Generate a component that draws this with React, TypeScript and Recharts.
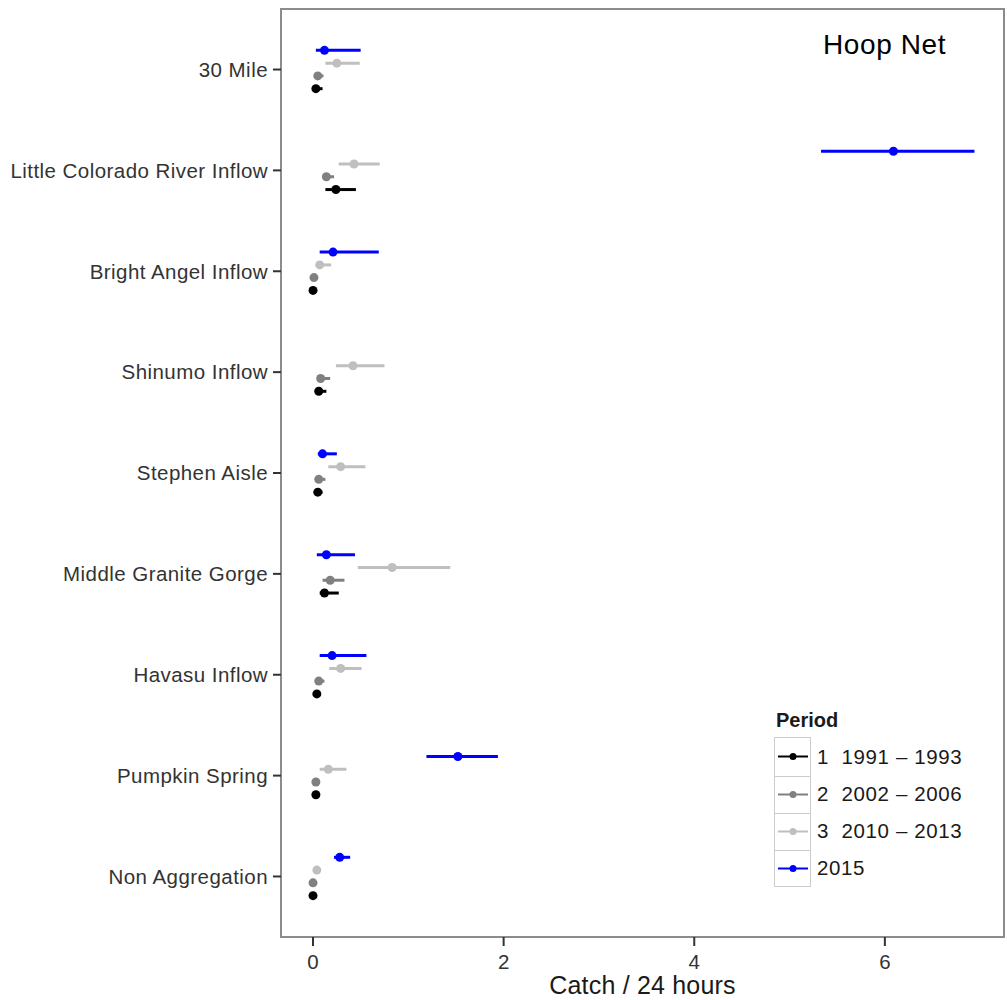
import { ScatterChart, Scatter, XAxis, YAxis, ErrorBar, ReferenceArea } from 'recharts';

// sites from bottom (0) to top (8)
const sites: string[] = [
  'Non Aggregation',
  'Pumpkin Spring',
  'Havasu Inflow',
  'Middle Granite Gorge',
  'Stephen Aisle',
  'Shinumo Inflow',
  'Bright Angel Inflow',
  'Little Colorado River Inflow',
  '30 Mile',
];

// period 1: 1991 - 1993
const p1Mean = [0.0, 0.03, 0.04, 0.12, 0.05, 0.06, 0.0, 0.24, 0.03];
const p1Low = [0.0, 0.02, 0.02, 0.07, 0.02, 0.03, 0.0, 0.13, 0.0];
const p1High = [0.0, 0.04, 0.07, 0.27, 0.1, 0.14, 0.03, 0.45, 0.1];

// period 2: 2002 - 2006
const p2Mean = [0.0, 0.03, 0.06, 0.18, 0.06, 0.08, 0.01, 0.14, 0.05];
const p2Low = [0.0, 0.02, 0.03, 0.1, 0.03, 0.05, 0.0, 0.1, 0.02];
const p2High = [0.0, 0.04, 0.12, 0.33, 0.13, 0.18, 0.04, 0.22, 0.11];

// period 3: 2010 - 2013
const p3Mean = [0.04, 0.16, 0.29, 0.83, 0.29, 0.42, 0.07, 0.43, 0.25];
const p3Low = [0.03, 0.07, 0.17, 0.47, 0.16, 0.24, 0.04, 0.27, 0.13];
const p3High = [0.05, 0.35, 0.51, 1.44, 0.55, 0.75, 0.19, 0.7, 0.49];

// 2015 (no Shinumo sample)
const p4Mean = [0.28, 1.52, 0.2, 0.14, 0.1, null, 0.21, 6.09, 0.12];
const p4Low = [0.22, 1.19, 0.07, 0.04, 0.05, null, 0.07, 5.33, 0.03];
const p4High = [0.39, 1.94, 0.56, 0.44, 0.25, null, 0.69, 6.94, 0.5];

const xTicks = [0, 2, 4, 6];

type Period = {
  label: string;
  color: string;
  offset: number;
  mean: (number | null)[];
  low: (number | null)[];
  high: (number | null)[];
};

const periods: Period[] = [
  { label: '1  1991 \u2013 1993', color: '#000000', offset: -0.19, mean: p1Mean, low: p1Low, high: p1High },
  { label: '2  2002 \u2013 2006', color: '#808080', offset: -0.063, mean: p2Mean, low: p2Low, high: p2High },
  { label: '3  2010 \u2013 2013', color: '#bfbfbf', offset: 0.063, mean: p3Mean, low: p3Low, high: p3High },
  { label: '2015', color: '#0000ff', offset: 0.19, mean: p4Mean, low: p4Low, high: p4High },
];

const toRows = (p: Period) =>
  sites
    .map((site, i) => {
      const m = p.mean[i];
      if (m == null) return null;
      return { site, x: m, y: i + p.offset, err: [m - (p.low[i] as number), (p.high[i] as number) - m] };
    })
    .filter((d) => d != null);

const font = '"Liberation Sans", Arial, Helvetica, sans-serif';

const Dot = (color: string) => (props: any) => <circle cx={props.cx} cy={props.cy} r={4.5} fill={color} />;

const PeriodLegend = () => (
  <div style={{ position: 'absolute', left: 774, top: 710, fontFamily: font, color: '#1a1a1a' }}>
    <div style={{ fontSize: 20, fontWeight: 'bold', lineHeight: '20px', marginLeft: 2, marginBottom: 7 }}>Period</div>
    <div style={{ border: '1.5px solid #cccccc', display: 'inline-block' }}>
      {periods.map((p, i) => (
        <div key={p.label} style={{ display: 'flex', alignItems: 'center', height: 37 }}>
          <svg width={35} height={35} style={{ borderTop: i > 0 ? '1.5px solid #cccccc' : 'none', display: 'block' }}>
            <line x1={3} x2={33} y1={17.5} y2={17.5} stroke={p.color} strokeWidth={2} />
            <circle cx={18} cy={17.5} r={3.5} fill={p.color} />
          </svg>
          <span style={{ position: 'absolute', left: 43, fontSize: 20.5, letterSpacing: 0.6, whiteSpace: 'pre' }}>{p.label}</span>
        </div>
      ))}
    </div>
  </div>
);

const App = () => {
  return (
    <div style={{ position: 'absolute', left: 0, top: 0, width: 1007, height: 1000, background: '#fff' }}>
      <ScatterChart width={1007} height={1000} margin={{ top: 9, right: 3, bottom: 0, left: 0 }}>
        <XAxis
          type="number"
          dataKey="x"
          domain={[-0.336, 7.25]}
          allowDataOverflow
          ticks={xTicks}
          interval={0}
          height={63}
          axisLine={false}
          tickLine={{ stroke: '#333', strokeWidth: 2 }}
          tickSize={9}
          tickMargin={8}
          tick={{ fill: '#333', fontSize: 20.5, fontFamily: font }}
          label={{ value: 'Catch / 24 hours', position: 'insideBottom', offset: 6, fill: '#1a1a1a', fontSize: 25, fontFamily: font, letterSpacing: 0.2 }}
        />
        <YAxis
          type="number"
          dataKey="y"
          domain={[-0.6, 8.6]}
          allowDataOverflow
          ticks={sites.map((_, i) => i)}
          interval={0}
          tickFormatter={(v: number) => sites[v]}
          width={281}
          axisLine={false}
          tickLine={{ stroke: '#333', strokeWidth: 2 }}
          tickSize={8}
          tickMargin={5}
          tick={{ fill: '#333', fontSize: 20.5, fontFamily: font, letterSpacing: 0.45 }}
        />
        <ReferenceArea x1={-0.336} x2={7.25} y1={-0.6} y2={8.6} fill="none" stroke="#8c8c8c" strokeWidth={2} />
        {periods.map((p) => (
          <Scatter key={p.label} name={p.label} data={toRows(p)} shape={Dot(p.color)} isAnimationActive={false}>
            <ErrorBar dataKey="err" direction="x" width={0} stroke={p.color} strokeWidth={3} isAnimationActive={false} />
          </Scatter>
        ))}
      </ScatterChart>
      <div style={{ position: 'absolute', left: 823, top: 31, fontFamily: font, fontSize: 28, lineHeight: '28px', letterSpacing: 0.6, color: '#000' }}>
        Hoop Net
      </div>
      <PeriodLegend />
    </div>
  );
};

export default App;
